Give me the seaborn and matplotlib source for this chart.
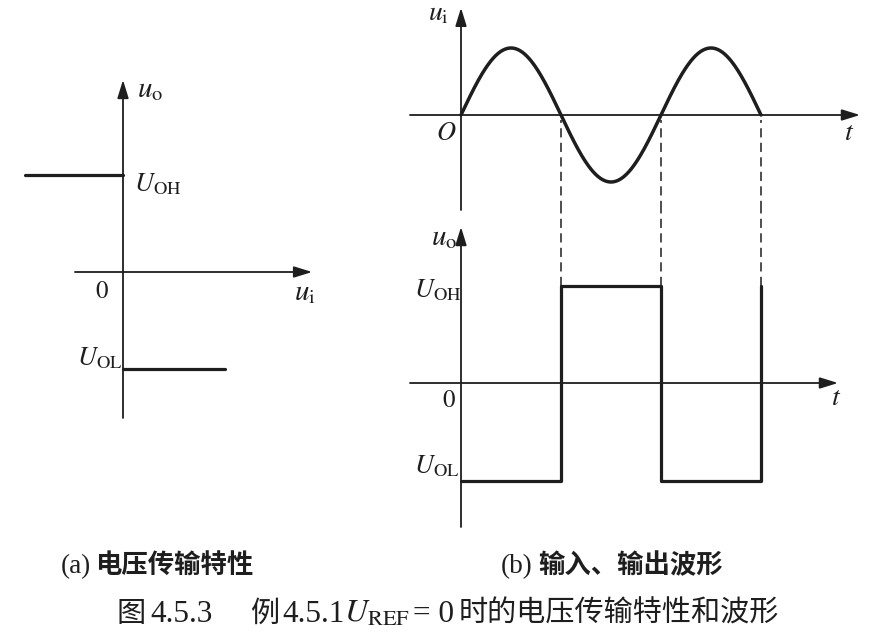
import numpy as np
import matplotlib.pyplot as plt
import seaborn as sns

# livelli di uscita del comparatore (U_REF = 0)
U_OH = 1.0
U_OL = -1.0
# caratteristica di trasferimento: u_o = U_OH per u_i < 0, U_OL per u_i > 0
ui_high = [-1.0, 0.0]
ui_low = [0.0, 1.04]
# ingresso sinusoidale: ampiezza e zeri (mezzo periodo = 1)
Um = 1.0
t_cross = [0.0, 1.0, 2.0, 3.0]
# uscita tra uno zero e il successivo, poi il fronte finale
out_levels = [U_OL, U_OH, U_OL]
out_end = U_OH

sns.set_theme(style="white")
plt.rcParams["font.family"] = ["Liberation Serif", "Noto Sans CJK SC"]
plt.rcParams["mathtext.fontset"] = "stix"

ink = "#1e1e1e"
W, H = 875, 643
fig = plt.figure(figsize=(8.75, 6.43), dpi=100)
fig.patch.set_facecolor("white")


def pax(x0, y0, x1, y1, ox, oy, sx, sy):
    # assi posizionati in pixel, origine (ox, oy), scala sx/sy pixel per unita
    ax = fig.add_axes([x0 / W, 1 - y1 / H, (x1 - x0) / W, (y1 - y0) / H])
    ax.set_xlim((x0 - ox) / sx, (x1 - ox) / sx)
    ax.set_ylim((oy - y1) / sy, (oy - y0) / sy)
    ax.set_axis_off()
    return ax


def arrow(ax, x0, y0, x1, y1):
    ax.annotate("", xy=(x1, y1), xytext=(x0, y0),
                arrowprops=dict(arrowstyle="-|>,head_length=0.55,head_width=0.17",
                                mutation_scale=20, lw=1.3, color=ink,
                                shrinkA=0, shrinkB=0))


def label(px, py, s, size=19, ha="left"):
    fig.text(px / W, 1 - py / H, s, fontsize=size, color=ink, ha=ha, va="baseline")


# (a) caratteristica
axL = pax(0, 60, 340, 440, 123, 272, 98, 97)
arrow(axL, -0.49, 0, 1.93, 0)
arrow(axL, 0, -1.505, 0, 1.98)
sns.lineplot(x=ui_high, y=[U_OH, U_OH], ax=axL, color=ink, lw=2.3)
sns.lineplot(x=ui_low, y=[U_OL, U_OL], ax=axL, color=ink, lw=2.3)

label(137, 97, r"$u_{\mathrm{o}}$", 21)
label(134, 191, r"$U_{\mathrm{OH}}$", 19)
label(95, 298, r"$0$", 18)
label(294, 300, r"$u_{\mathrm{i}}$", 21)
label(122, 365, r"$U_{\mathrm{OL}}$", 19, ha="right")

# (b) ingresso
axT = pax(400, 0, 875, 210, 461, 115, 100, 67)
ylo_T = axT.get_ylim()[0]
arrow(axT, -0.51, 0, 3.99, 0)
arrow(axT, 0, ylo_T, 0, 1.6)
t = np.linspace(t_cross[0], t_cross[-1], 400)
ui = Um * np.sin(np.pi * t)
sns.lineplot(x=t, y=ui, ax=axT, color=ink, lw=2.5)
axT.vlines(t_cross[1:], ylo_T, -0.07, colors=ink, lw=1.1, linestyles=[(0, (6, 3.5))])

label(428, 20, r"$u_{\mathrm{i}}$", 20)
label(436, 140, r"$O$", 19)
label(844, 140, r"$t$", 20)

# (b) uscita
axB = pax(400, 210, 875, 540, 461, 383, 100, 97.5)
yhi_B = axB.get_ylim()[1]
arrow(axB, -0.51, 0, 3.77, 0)
arrow(axB, 0, -1.477, 0, 1.6)
sq_t, sq_u = [], []
for k, lev in enumerate(out_levels):
    sq_t += [t_cross[k], t_cross[k + 1]]
    sq_u += [lev, lev]
sq_t.append(t_cross[-1])
sq_u.append(out_end)
sns.lineplot(x=sq_t, y=sq_u, ax=axB, color=ink, lw=2.3, estimator=None, sort=False)
axB.vlines(t_cross[1:], U_OH, yhi_B, colors=ink, lw=1.1, linestyles=[(0, (6, 3.5))])

label(431, 245, r"$u_{\mathrm{o}}$", 21)
label(414, 297, r"$U_{\mathrm{OH}}$", 19)
label(442, 407, r"$0$", 18)
label(831, 405, r"$t$", 20)
label(414, 473, r"$U_{\mathrm{OL}}$", 19)

# didascalie
axC = fig.add_axes([0, 0, 1, 1])
axC.set_axis_off()


def chain(prev, s, size, dx=0, **kw):
    # testo attaccato a destra del precedente, stessa linea di base
    return axC.annotate(s, xy=(1, chain.y), xycoords=(prev, "figure fraction"),
                        xytext=(dx, 0), textcoords="offset points",
                        fontsize=size, color=ink, ha="left", va="baseline", **kw)


chain.y = 1 - 573 / H
a1 = fig.text(61 / W, chain.y, "(a)", fontsize=19.5, color=ink, va="baseline")
chain(a1, "电压传输特性", 19, dx=3, fontweight="bold")
b1 = fig.text(501 / W, chain.y, "(b)", fontsize=19.5, color=ink, va="baseline")
chain(b1, "输入、输出波形", 19, dx=4, fontweight="bold")

chain.y = 1 - 622 / H
c = fig.text(117 / W, chain.y, "图", fontsize=21, color=ink, va="baseline")
c = chain(c, "4.5.3", 22.5, dx=3)
c = chain(c, "例", 21, dx=27)
c = chain(c, "4.5.1", 22.5, dx=2)
c = chain(c, r"$U_{\mathrm{REF}}$", 23, dx=0)
c = chain(c, "= 0", 22.5, dx=2)
chain(c, "时的电压传输特性和波形", 21, dx=3)

plt.savefig("out.png", dpi=100, facecolor="white")
plt.close()
